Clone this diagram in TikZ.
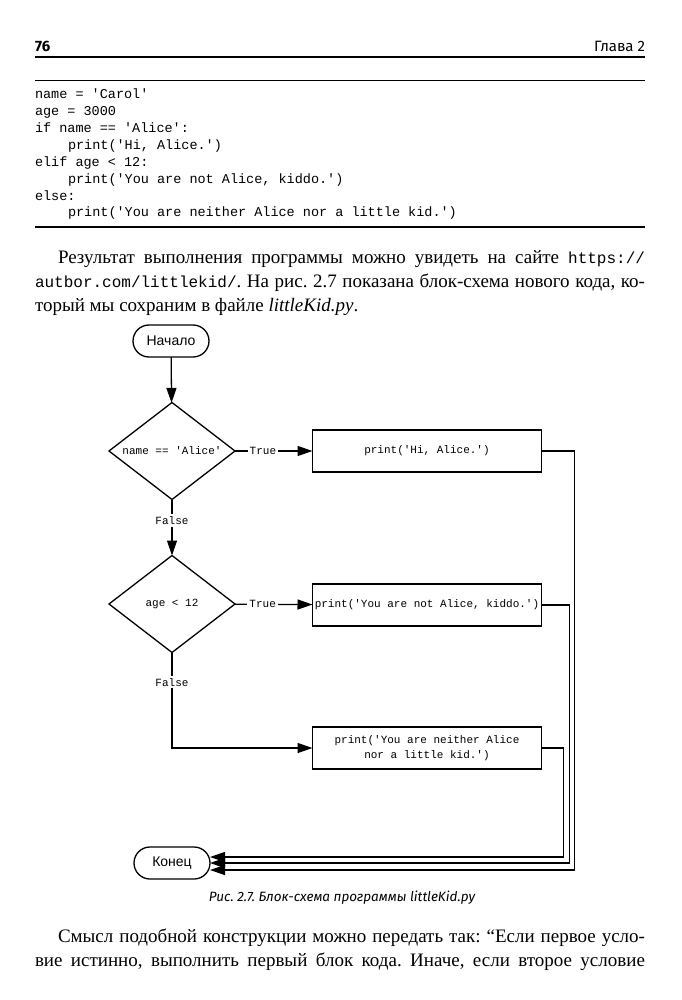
\documentclass[tikz,border=0pt]{standalone}
\usepackage{fontspec}
\setmainfont{Liberation Serif}
\newfontfamily\codefont[Ligatures=TeXOff]{Liberation Mono}
\newfontfamily\flowsans{Liberation Sans}
\newfontfamily\headfont{Fira Sans}
\usetikzlibrary{arrows.meta,shapes.geometric,shapes.misc}
\newcommand\inlinecode[1]{{\codefont\fontsize{16}{24}\selectfont #1}}
\frenchspacing
\begin{document}
\begin{tikzpicture}[x=1pt,y=-1pt,
  every node/.style={inner sep=0pt, outer sep=0pt},
  codeline/.style={anchor=base west, font=\codefont\fontsize{13.5}{16}\selectfont},
  bodyline/.style={anchor=base west, font=\fontsize{19}{24}\selectfont},
  term/.style={rounded rectangle, draw, line width=1.3pt, minimum width=76pt, minimum height=32pt, font=\flowsans\fontsize{14}{16}\selectfont},
  decision/.style={diamond, aspect=1.3, draw, line width=1.3pt, minimum width=126pt, minimum height=97pt, font=\codefont\fontsize{11}{13}\selectfont},
  process/.style={rectangle, draw, line width=1.3pt, minimum width=229pt, minimum height=42pt, align=center, font=\codefont\fontsize{11}{15}\selectfont},
  flow/.style={line width=1.3pt, -{Triangle[length=15pt,width=10pt]}},
  lbl/.style={fill=white, inner sep=2pt, font=\codefont\fontsize{11}{13}\selectfont}
]
\useasboundingbox[fill=white] (0,0) rectangle (681,1000);

% header
\node[anchor=west, font=\headfont\bfseries\fontsize{15}{18}\selectfont] (pg) at (35,46) {76};
\node[anchor=east, font=\headfont\fontsize{15}{18}\selectfont] (ch) at (645,46) {Глава 2};
\draw[line width=1.6pt] (35,57) -- (645,57);
\draw[line width=1pt] (35,81) -- (645,81);

% code listing
\node[codeline] (c1) at (35,99) {name = 'Carol'};
\node[codeline] (c2) at (35,116) {age = 3000};
\node[codeline] (c3) at (35,133) {if name == 'Alice':};
\node[codeline] (c4) at (68,150) {print('Hi, Alice.')};
\node[codeline] (c5) at (35,167) {elif age < 12:};
\node[codeline] (c6) at (68,184) {print('You are not Alice, kiddo.')};
\node[codeline] (c7) at (35,201) {else:};
\node[codeline] (c8) at (68,217) {print('You are neither Alice nor a little kid.')};
\draw[line width=1.3pt] (35,227) -- (645,227);

% body text
\node[bodyline] (t1) at (58,263) {\makebox[587pt][s]{Результат выполнения программы можно увидеть на сайте \inlinecode{https://}}};
\node[bodyline] (t2) at (35,287) {\makebox[610pt][s]{\inlinecode{autbor.com/littlekid/}. На рис. 2.7 показана блок-схема нового кода, ко-}};
\node[bodyline] (t3) at (35,311) {торый мы сохраним в файле \textit{littleKid.py}.};

% flowchart
\node[term] (start) at (171,341) {Начало};
\node[decision] (d1) at (172,451) {name == 'Alice'};
\node[process] (b1) at (427,451) {print('Hi, Alice.')};
\node[decision] (d2) at (172,604) {age < 12};
\node[process] (b2) at (427,605) {print('You are not Alice, kiddo.')};
\node[process] (b3) at (427,748) {print('You are neither Alice\\nor a little kid.')};
\node[term] (end) at (172,863) {Конец};

\draw[flow] (start) -- (d1);
\draw[flow] (d1) -- node[lbl,pos=0.36]{True} (b1);
\draw[flow] (d1) -- node[lbl,pos=0.375]{False} (d2);
\draw[flow] (d2) -- node[lbl,pos=0.36]{True} (b2);
\draw[flow] (d2.south) -- node[lbl,pos=0.31]{False} (d2.south |- b3.west) -- (b3.west);
\draw[flow] (b1.east) -- ++(33,0) |- ([yshift=-7pt]end.east);
\draw[flow] (b2.east) -- ++(28,0) |- (end.east);
\draw[flow] (b3.east) -- ++(22,0) |- ([yshift=6pt]end.east);

% caption
\node[font=\headfont\itshape\fontsize{13.5}{16}\selectfont] (cap) at (342,898) {Рис. 2.7. Блок-схема программы littleKid.py};

% closing text
\node[bodyline] (t4) at (58,942) {\makebox[587pt][s]{Смысл подобной конструкции можно передать так: “Если первое усло-}};
\node[bodyline] (t5) at (35,966) {\makebox[610pt][s]{вие истинно, выполнить первый блок кода. Иначе, если второе условие}};
\end{tikzpicture}
\end{document}
